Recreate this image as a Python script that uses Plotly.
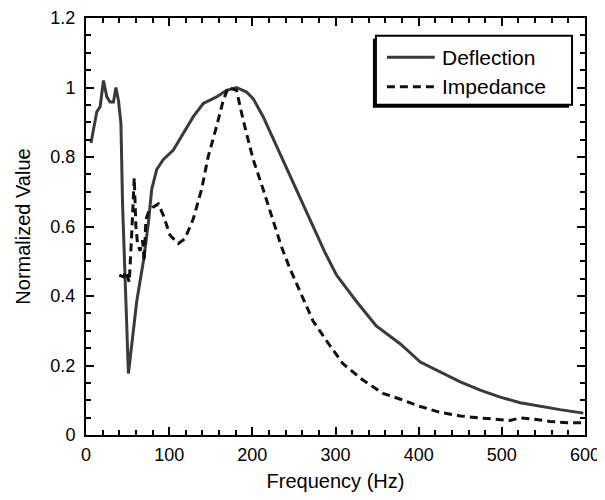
import plotly.graph_objects as go

defl_f = [6, 11, 13, 17, 21, 25, 29, 33, 36, 39, 42, 44, 51, 61, 69, 75, 79, 85, 93, 105, 117, 129, 141, 157,
          169, 181, 193, 201, 213, 233, 253, 273, 287, 301, 325, 349, 378, 402, 426, 450, 474, 498, 522, 546, 570, 598]
defl_v = [0.84, 0.906, 0.93, 0.945, 1.02, 0.973, 0.958, 0.958, 1.0, 0.963, 0.897, 0.66, 0.177, 0.385, 0.5, 0.61,
          0.707, 0.764, 0.793, 0.82, 0.869, 0.916, 0.954, 0.973, 0.992, 1.0, 0.987, 0.968, 0.916, 0.812, 0.707,
          0.603, 0.527, 0.461, 0.385, 0.314, 0.262, 0.21, 0.181, 0.153, 0.129, 0.109, 0.093, 0.082, 0.073, 0.063]

imp_f = [40, 45, 48, 52, 55, 58, 60, 62, 65, 68, 70, 72, 75, 80, 87, 93, 101, 111, 119, 129, 139, 147, 157,
         165, 171, 181, 189, 201, 213, 225, 235, 245, 259, 273, 289, 309, 333, 357, 378, 402, 426, 450, 474,
         498, 510, 522, 537, 558, 582, 598]
imp_v = [0.46, 0.455, 0.47, 0.44, 0.58, 0.74, 0.6, 0.55, 0.53, 0.56, 0.5, 0.62, 0.64, 0.655, 0.665, 0.632,
         0.575, 0.551, 0.565, 0.622, 0.707, 0.802, 0.888, 0.963, 1.0, 0.992, 0.906, 0.793, 0.707, 0.613, 0.542,
         0.48, 0.404, 0.328, 0.272, 0.205, 0.158, 0.12, 0.103, 0.082, 0.065, 0.055, 0.049, 0.044, 0.042, 0.049,
         0.046, 0.039, 0.035, 0.035]

series_names = ["Deflection", "Impedance"]
series_colors = ["#3a3a3a", "#111111"]
series_dash = ["solid", "8px,5px"]

font = "Liberation Sans, Arial, sans-serif"

fig = go.Figure()
fig.add_trace(go.Scatter(x=defl_f, y=defl_v, mode="lines", name=series_names[0], showlegend=False,
                         line=dict(color=series_colors[0], width=3, dash=series_dash[0])))
fig.add_trace(go.Scatter(x=imp_f, y=imp_v, mode="lines", name=series_names[1], showlegend=False,
                         line=dict(color=series_colors[1], width=3, dash=series_dash[1])))

axis_common = dict(showgrid=False, zeroline=False, showline=True, linecolor="black", linewidth=2,
                   mirror="ticks", ticks="inside", ticklen=8, tickwidth=2, tickcolor="black",
                   automargin=False, ticklabeloverflow="allow",
                   tickfont=dict(family=font, size=18, color="black"))
fig.update_xaxes(range=[0, 600], tick0=0, dtick=100, ticklabelstandoff=2,
                 minor=dict(dtick=20, ticks="inside", ticklen=5, tickcolor="black", tickwidth=1.5),
                 title=dict(text="Frequency (Hz)", font=dict(family=font, size=20, color="black"), standoff=10),
                 **axis_common)
fig.update_yaxes(range=[0, 1.2], tick0=0, dtick=0.2, ticklabelstandoff=5,
                 minor=dict(dtick=0.05, ticks="inside", ticklen=5, tickcolor="black", tickwidth=1.5),
                 title=dict(text="Normalized Value", font=dict(family=font, size=20, color="black"), standoff=14),
                 **axis_common)

# manual legend box with shadow
fig.add_shape(type="rect", xref="paper", yref="paper", x0=0.575, x1=0.968, y0=0.785, y1=0.950,
              line=dict(width=0), fillcolor="black", layer="above")
fig.add_shape(type="rect", xref="paper", yref="paper", x0=0.581, x1=0.974, y0=0.792, y1=0.9575,
              line=dict(width=2, color="black"), fillcolor="white", layer="above")
row_y = [0.906, 0.835]
for i in range(2):
    fig.add_shape(type="line", xref="paper", yref="paper", x0=0.603, x1=0.699, y0=row_y[i], y1=row_y[i],
                  line=dict(color=series_colors[i], width=3, dash=series_dash[i]), layer="above")
    fig.add_annotation(xref="paper", yref="paper", x=0.709, y=row_y[i], xanchor="left", yanchor="middle",
                       text=series_names[i], showarrow=False,
                       font=dict(family=font, size=21, color="black"))

fig.update_layout(
    width=597, height=492,
    margin=dict(l=78, r=20, t=10, b=64.5),
    plot_bgcolor="white", paper_bgcolor="white",
    showlegend=False,
    font=dict(family=font),
)

fig.write_html("out.html")
